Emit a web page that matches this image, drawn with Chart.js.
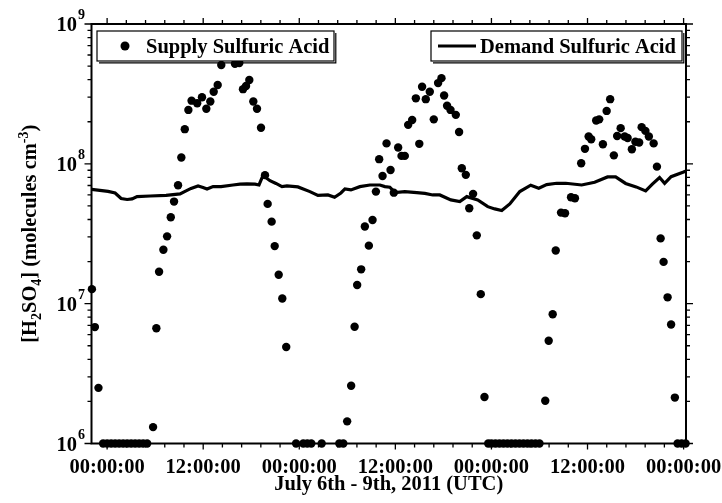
<!DOCTYPE html>
<html>
<head>
<meta charset="utf-8">
<script src="https://cdn.jsdelivr.net/npm/chart.js@4.4.1/dist/chart.umd.min.js"></script>
<style>
  html, body { margin: 0; padding: 0; background: #fff; }
</style>
</head>
<body>
<canvas id="chart" width="722" height="503"></canvas>
<script>
// hours after July 6th 00:00 UTC
const supplyHours = [
  -1.9, -1.53, -1.08,
  -0.5, 0, 0.5, 1, 1.5, 2, 2.5, 3, 3.5, 4, 4.5, 5,
  5.74, 6.15, 6.49, 7.03, 7.49, 7.95, 8.36, 8.86, 9.27, 9.7, 10.15, 10.55,
  11.25, 11.85, 12.39, 12.89, 13.31, 13.81, 14.26, 15.97, 16.51, 16.97, 17.35,
  17.76, 18.26, 18.72, 19.22, 19.72, 20.05, 20.55, 20.93, 21.43, 21.88, 22.37,
  23.6, 24.5, 25.0, 25.5, 26.8, 29.0, 29.5,
  29.98, 30.48, 30.91, 31.23, 31.73, 32.19, 32.69, 33.15, 33.57, 33.98, 34.4,
  34.9, 35.4, 35.81, 36.35, 36.77, 37.18, 37.6, 38.1, 38.56, 38.99, 39.34,
  39.8, 40.3, 40.8, 41.34, 41.76, 42.09, 42.46, 42.89, 43.55, 43.96, 44.3,
  44.8, 45.23, 45.71, 46.17, 46.67, 47.13,
  47.6, 48.0, 48.5, 49.0, 49.5, 50.0, 50.5, 51.0, 51.5, 52.0, 52.5, 53.0, 53.5, 54.0,
  54.72, 55.15, 55.65, 56.03, 56.69, 57.19, 57.94, 58.43, 59.21, 59.68, 60.14,
  60.46, 61.08, 61.46, 61.92, 62.39, 62.83, 63.29, 63.7, 64.14, 64.64, 65.01,
  65.54, 65.98, 66.45, 66.76, 67.23, 67.66, 68.26, 68.67, 69.13, 69.5, 70.0,
  70.44, 70.91,
  71.25, 71.75, 72.25
];
const supplyValues = [
  1.27e7, 6.8e6, 2.5e6,
  1e6, 1e6, 1e6, 1e6, 1e6, 1e6, 1e6, 1e6, 1e6, 1e6, 1e6, 1e6,
  1.31e6, 6.67e6, 1.69e7, 2.43e7, 3.03e7, 4.15e7, 5.37e7, 7.03e7, 1.11e8, 1.77e8, 2.43e8, 2.83e8,
  2.71e8, 2.99e8, 2.48e8, 2.79e8, 3.28e8, 3.66e8, 5.09e8, 5.19e8, 5.26e8, 3.42e8, 3.6e8,
  3.98e8, 2.79e8, 2.48e8, 1.81e8, 8.3e7, 5.17e7, 3.86e7, 2.58e7, 1.61e7, 1.09e7, 4.9e6,
  1e6, 1e6, 1e6, 1e6, 1e6, 1e6, 1e6,
  1.44e6, 2.59e6, 6.84e6, 1.36e7, 1.76e7, 3.56e7, 2.6e7, 3.97e7, 6.33e7, 1.08e8, 8.19e7,
  1.40e8, 9.04e7, 6.22e7, 1.31e8, 1.14e8, 1.14e8, 1.90e8, 2.06e8, 2.94e8, 1.39e8, 3.56e8,
  2.9e8, 3.28e8, 2.08e8, 3.78e8, 4.1e8, 3.08e8, 2.6e8, 2.43e8, 2.24e8, 1.69e8, 9.3e7,
  8.34e7, 4.81e7, 6.1e7, 3.08e7, 1.17e7, 2.15e6,
  1e6, 1e6, 1e6, 1e6, 1e6, 1e6, 1e6, 1e6, 1e6, 1e6, 1e6, 1e6, 1e6, 1e6,
  2.02e6, 5.43e6, 8.4e6, 2.4e7, 4.48e7, 4.43e7, 5.77e7, 5.68e7, 1.01e8, 1.28e8, 1.57e8,
  1.50e8, 2.04e8, 2.08e8, 1.38e8, 2.39e8, 2.9e8, 1.15e8, 1.58e8, 1.80e8, 1.57e8, 1.53e8,
  1.27e8, 1.44e8, 1.42e8, 1.83e8, 1.72e8, 1.57e8, 1.40e8, 9.55e7, 2.93e7, 1.99e7, 1.11e7,
  7.1e6, 2.13e6,
  1e6, 1e6, 1e6
];

const demandHours = [
  -1.93, 0.12, 1.0, 1.75, 2.5, 3.12, 3.74, 5.37, 7.36, 9.11, 9.86, 10.48, 11.36,
  11.98, 12.48, 13.23, 14.23, 15.72, 16.6, 17.47, 18.47, 18.97, 19.47, 20.34,
  21.09, 21.84, 22.46, 23.83, 25.33, 26.33, 27.58, 28.41, 29.2, 29.7, 30.45,
  31.57, 32.82, 34.07, 34.69, 35.31, 35.94, 37.18, 38.68, 39.68, 40.68, 41.55,
  42.93, 44.05, 44.92, 46.29, 47.54, 48.42, 49.29, 50.29, 51.54, 52.91, 53.91,
  54.9, 56.15, 57.28, 59.27, 60.89, 62.5, 63.51, 64.76, 66.07, 67.26, 68.13,
  69.0, 69.63, 70.44, 72.0, 72.31
];
const demandValues = [
  6.56e7, 6.35e7, 6.19e7, 5.65e7, 5.56e7, 5.61e7, 5.83e7, 5.89e7, 5.94e7, 6.09e7, 6.40e7, 6.67e7, 6.95e7,
  6.78e7, 6.61e7, 6.87e7, 6.87e7, 7.06e7, 7.15e7, 7.18e7, 7.15e7, 7.06e7, 8.26e7, 7.58e7,
  7.24e7, 6.87e7, 6.95e7, 6.84e7, 6.33e7, 5.94e7, 5.99e7, 5.77e7, 6.19e7, 6.61e7, 6.51e7,
  6.87e7, 7.06e7, 7.06e7, 6.87e7, 6.80e7, 6.24e7, 6.33e7, 6.22e7, 6.14e7, 5.99e7, 5.99e7,
  5.52e7, 5.38e7, 5.83e7, 5.52e7, 4.94e7, 4.76e7, 4.64e7, 5.17e7, 6.33e7, 7.03e7, 6.69e7,
  7.10e7, 7.26e7, 7.26e7, 7.06e7, 7.39e7, 8.06e7, 8.06e7, 7.24e7, 6.84e7, 6.40e7, 7.18e7,
  7.99e7, 7.26e7, 8.10e7, 8.75e7, 8.90e7
];

const xTickHours = [0, 12, 24, 36, 48, 60, 72];
const xTickLabels = ['00:00:00', '12:00:00', '00:00:00', '12:00:00', '00:00:00', '12:00:00', '00:00:00'];
const yTickValues = [1e6, 1e7, 1e8, 1e9];
const yTickExponents = ['6', '7', '8', '9'];

const FONT = 'bold 20.5px "Liberation Serif", "Times New Roman", serif';
const SMALL = 'bold 14px "Liberation Serif", "Times New Roman", serif';

// draws a run of text pieces [text, font, dy] starting at x
function richText(ctx, parts, x, y) {
  let cx = x;
  parts.forEach(p => {
    ctx.font = p[1];
    ctx.fillText(p[0], cx, y + p[2]);
    cx += ctx.measureText(p[0]).width;
  });
}
function richWidth(ctx, parts) {
  let w = 0;
  parts.forEach(p => { ctx.font = p[1]; w += ctx.measureText(p[0]).width; });
  return w;
}

const framePlugin = {
  id: 'frame',
  afterDatasetsDraw(chart) {
    const ctx = chart.ctx;
    const a = chart.chartArea;
    const xs = chart.scales.x, ys = chart.scales.y;
    ctx.save();
    ctx.strokeStyle = '#000';
    ctx.fillStyle = '#000';

    // box
    ctx.lineWidth = 2;
    ctx.strokeRect(a.left, a.top, a.right - a.left, a.bottom - a.top);

    // ticks
    ctx.lineWidth = 1.3;
    ctx.beginPath();
    for (let i = 0; i <= 30; i++) {
      const px = xs.getPixelForValue(i * 2.4);
      const len = i % 5 === 0 ? 6 : 4;
      ctx.moveTo(px, a.top); ctx.lineTo(px, a.top - len);
      ctx.moveTo(px, a.bottom); ctx.lineTo(px, a.bottom + len);
    }
    for (let e = 6; e <= 9; e++) {
      for (let m = 1; m <= 9; m++) {
        if (e === 9 && m > 1) break;
        const py = ys.getPixelForValue(m * Math.pow(10, e));
        const len = m === 1 ? 7 : 4;
        ctx.moveTo(a.left, py); ctx.lineTo(a.left - len, py);
        ctx.moveTo(a.right, py); ctx.lineTo(a.right + len, py);
      }
    }
    ctx.stroke();

    // x tick labels
    ctx.font = FONT;
    ctx.textAlign = 'center';
    ctx.textBaseline = 'alphabetic';
    xTickHours.forEach((h, i) => {
      ctx.fillText(xTickLabels[i], xs.getPixelForValue(h), 473);
    });
    ctx.fillText('July 6th - 9th, 2011 (UTC)', (a.left + a.right) / 2, 490);

    // y tick labels 10^n
    yTickValues.forEach((v, i) => {
      const py = ys.getPixelForValue(v);
      ctx.font = FONT;
      ctx.textAlign = 'right';
      ctx.fillText('10', 77, py + 7);
      ctx.font = SMALL;
      ctx.textAlign = 'left';
      ctx.fillText(yTickExponents[i], 78, py - 5);
    });

    // y title
    const parts = [
      ['[H', FONT, 0], ['2', SMALL, 5], ['SO', FONT, 0], ['4', SMALL, 5],
      ['] (molecules cm', FONT, 0], ['-3', SMALL, -8], [')', FONT, 0]
    ];
    ctx.save();
    ctx.translate(36, (a.top + a.bottom) / 2);
    ctx.rotate(-Math.PI / 2);
    ctx.textAlign = 'left';
    richText(ctx, parts, -richWidth(ctx, parts) / 2, 0);
    ctx.restore();

    // legend boxes
    const boxes = [[97, 31, 237, 30], [431, 31, 251, 30]];
    boxes.forEach(b => {
      ctx.fillStyle = '#fff';
      ctx.fillRect(b[0], b[1], b[2], b[3]);
      ctx.strokeStyle = '#000';
      ctx.lineWidth = 1.2;
      ctx.strokeRect(b[0], b[1], b[2], b[3]);
      ctx.beginPath();
      ctx.moveTo(b[0] + b[2] + 1.8, b[1] + 2);
      ctx.lineTo(b[0] + b[2] + 1.8, b[1] + b[3] + 1.8);
      ctx.lineTo(b[0] + 2, b[1] + b[3] + 1.8);
      ctx.stroke();
    });
    ctx.fillStyle = '#000';
    ctx.beginPath();
    ctx.arc(125, 46, 4.5, 0, Math.PI * 2);
    ctx.fill();
    ctx.lineWidth = 3;
    ctx.beginPath();
    ctx.moveTo(438, 46); ctx.lineTo(476, 46);
    ctx.stroke();
    ctx.font = FONT;
    ctx.textAlign = 'left';
    ctx.fillText('Supply Sulfuric Acid', 146, 53);
    ctx.fillText('Demand Sulfuric Acid', 480, 53);
    ctx.restore();
  }
};

new Chart(document.getElementById('chart'), {
  type: 'scatter',
  data: {
    datasets: [
      {
        label: 'Demand Sulfuric Acid',
        type: 'line',
        data: demandHours.map((h, i) => ({ x: h, y: demandValues[i] })),
        borderColor: '#000',
        borderWidth: 3.2,
        pointRadius: 0,
        tension: 0,
        fill: false
      },
      {
        label: 'Supply Sulfuric Acid',
        data: supplyHours.map((h, i) => ({ x: h, y: supplyValues[i] })),
        backgroundColor: '#000',
        borderColor: '#000',
        borderWidth: 0,
        pointRadius: 4.2,
        clip: false
      }
    ]
  },
  options: {
    responsive: false,
    animation: false,
    layout: { padding: { left: 91.5, right: 36, top: 24, bottom: 59.5 } },
    plugins: {
      legend: { display: false },
      tooltip: { enabled: false }
    },
    scales: {
      x: { type: 'linear', min: -1.95, max: 72.3, display: false },
      y: { type: 'logarithmic', min: 1e6, max: 1e9, display: false }
    }
  },
  plugins: [framePlugin]
});
</script>
</body>
</html>
